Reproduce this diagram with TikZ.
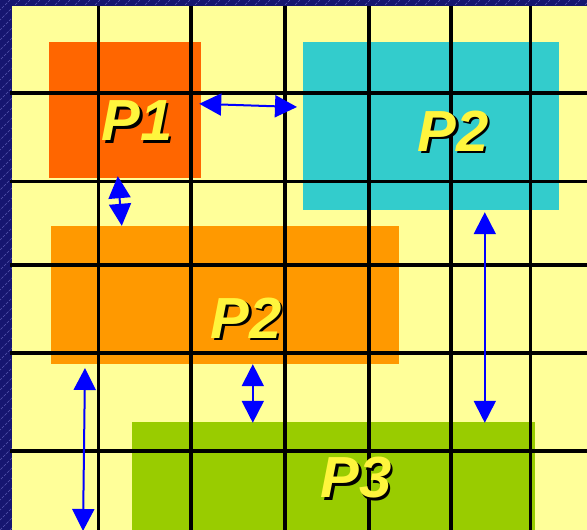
\documentclass[tikz,border=0pt]{standalone}
\usepackage{fontspec}
\setmainfont{Liberation Sans}
\usetikzlibrary{arrows.meta,positioning,calc}

\definecolor{navy}{RGB}{22,22,112}
\definecolor{paper}{HTML}{FFFF99}
\definecolor{pone}{HTML}{FF6600}
\definecolor{ptwoc}{HTML}{33CCCC}
\definecolor{ptwoo}{HTML}{FF9900}
\definecolor{pthree}{HTML}{99CC00}

% text with a dark drop shadow
\newcommand{\shadowed}[1]{\rlap{\hspace{2.5pt}\raisebox{-2.5pt}{\textcolor{black}{#1}}}#1}

\begin{document}
\begin{tikzpicture}[x=1pt, y=-1pt,
  blk/.style={rectangle, draw=none, inner sep=0pt},
  lbl/.style={font=\fontsize{58}{60}\selectfont\bfseries\itshape, text=yellow!60!paper, inner sep=0pt},
  gridline/.style={black, line width=3.5pt},
  dbl/.style={{Triangle[length=22pt,width=22pt]}-{Triangle[length=22pt,width=22pt]}, blue, line width=2pt},
  stripe/.style={blue!35!white, opacity=0.45, line width=0.6pt, dash pattern=on 3pt off 1.5pt}
]
\useasboundingbox (0,0) rectangle (587,530);

% Background
\fill[navy] (0,0) rectangle (587,530);
\begin{scope}
  \clip (0,0) rectangle (587,530);
  \foreach \i in {-540,-530,...,590}
    \draw[stripe] (\i,530) -- (\i+530,0);
\end{scope}
\fill[paper] (11.5,5.5) rectangle (587,530);

% Rectangles
\node[blk, fill=pone,   minimum width=152pt, minimum height=136pt] (rP1)  at (125,110)   {};
\node[blk, fill=ptwoc,  minimum width=256pt, minimum height=168pt] (rP2c) at (431,126)   {};
\node[blk, fill=ptwoo,  minimum width=348pt, minimum height=138pt] (rP2o) at (225,295)   {};
\node[blk, fill=pthree, minimum width=403pt, minimum height=108pt] (rP3)  at (333.5,476) {};

% Grid
\foreach \x in {98.5,191,285,369,451,530.5}
  \draw[gridline] (\x,6) -- (\x,530);
\foreach \y in {93,181.5,265,353,451}
  \draw[gridline] (10,\y) -- (587,\y);

% Labels
\node[lbl] (lP1)  at (137,122) {\shadowed{P1}};
\node[lbl] (lP2c) at (453,132) {\shadowed{P2}};
\node[lbl] (lP2o) at (246,319) {\shadowed{P2}};
\node[lbl] (lP3)  at (356,479) {\shadowed{P3}};

% Arrows
\coordinate (gapL) at (297,107);
\coordinate (lowT) at (85,368);
\coordinate (lowB) at (83,531);
\draw[dbl] ([xshift=-2pt,yshift=-62pt]rP1.north east) -- (gapL);
\draw[dbl] ([xshift=69pt,yshift=2pt]rP1.south west) -- ([xshift=71pt]rP2o.north west);
\draw[dbl] (lowT) -- (lowB);
\draw[dbl] ([xshift=202pt]rP2o.south west) -- ([xshift=121pt,yshift=-1pt]rP3.north west);
\draw[dbl] ([xshift=182pt,yshift=-2pt]rP2c.south west) -- ([xshift=353pt,yshift=-1pt]rP3.north west);

\end{tikzpicture}
\end{document}
